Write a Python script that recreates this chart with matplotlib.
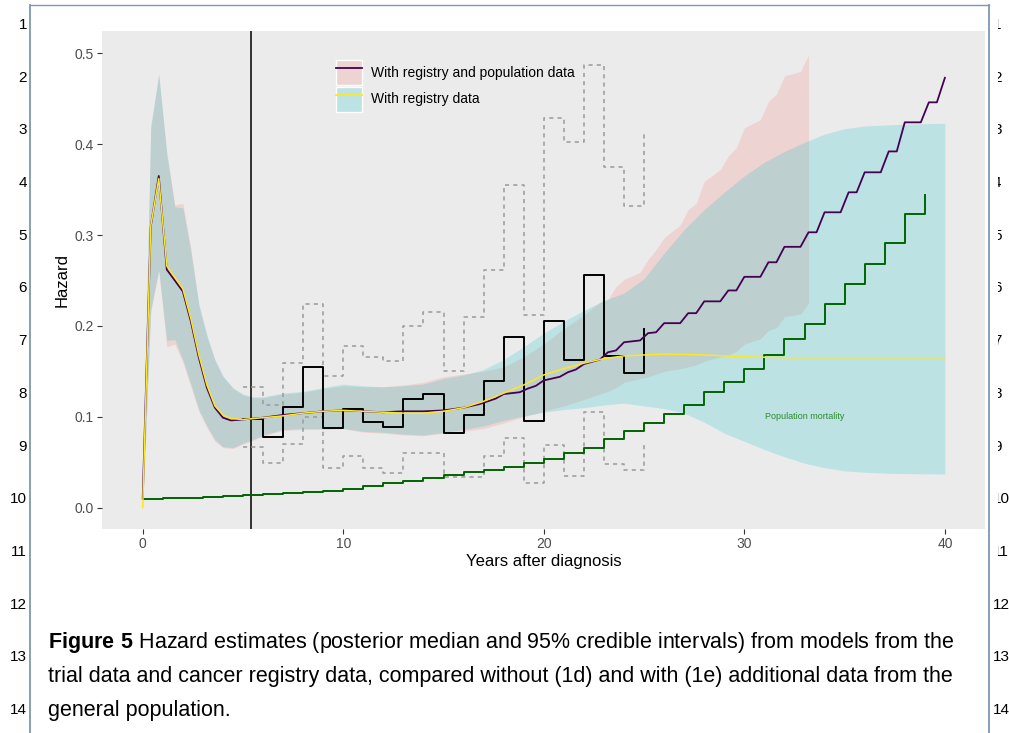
import matplotlib
matplotlib.use("Agg")
import matplotlib.pyplot as plt
from matplotlib.patches import Patch
from matplotlib.lines import Line2D
from matplotlib.legend_handler import HandlerTuple
from matplotlib.transforms import Bbox

plt.rcParams['font.family'] = ['Liberation Sans', 'DejaVu Sans']
plt.rcParams['mathtext.fontset'] = 'custom'
plt.rcParams['mathtext.bf'] = 'Liberation Sans:bold'
plt.rcParams['mathtext.rm'] = 'Liberation Sans'

# posterior median, model with registry + population data
t_pop = [0, 0.4, 0.8, 1.2, 2.0, 2.4, 2.8, 3.2, 3.6, 4.0,
         4.4, 5.0, 6, 7, 8, 9, 10, 11, 12, 13,
         14, 15, 16, 16.8, 17.2, 17.6, 18.0, 18.8, 19.2, 19.6,
         20.0, 20.8, 21.2, 21.6, 22.0, 22.8, 23.2, 23.6, 24.0, 24.8,
         25.2, 25.6, 26.0, 26.8, 27.2, 27.6, 28.0, 28.8, 29.2, 29.6,
         30.0, 30.8, 31.2, 31.6, 32.0, 32.8, 33.2, 33.6, 34.0, 34.8,
         35.2, 35.6, 36.0, 36.8, 37.2, 37.6, 38.0, 38.8, 39.2, 39.6,
         40.0]
h_pop = [0.010, 0.309, 0.365, 0.262, 0.238, 0.205, 0.165, 0.132, 0.110, 0.099,
         0.096, 0.097, 0.099, 0.102, 0.104, 0.106, 0.107, 0.106, 0.105, 0.106,
         0.106, 0.107, 0.110, 0.114, 0.117, 0.120, 0.125, 0.127, 0.131, 0.134,
         0.140, 0.144, 0.149, 0.152, 0.158, 0.163, 0.171, 0.173, 0.182, 0.184,
         0.192, 0.193, 0.203, 0.203, 0.214, 0.214, 0.227, 0.227, 0.239, 0.239,
         0.254, 0.254, 0.270, 0.270, 0.287, 0.287, 0.303, 0.303, 0.325, 0.325,
         0.347, 0.347, 0.369, 0.369, 0.392, 0.392, 0.424, 0.424, 0.446, 0.446,
         0.473]

# 95% interval, registry + population data
t_pop_band = [0, 0.4, 0.8, 1.2, 1.6, 2.0, 2.4, 2.8, 3.2, 3.6,
              4.0, 4.5, 5.0, 5.5, 6, 7, 8, 9, 10, 11,
              12, 13, 14, 15, 16, 17, 18, 19, 20, 21,
              22, 22.8, 23.2, 23.6, 24.0, 24.4, 24.8, 25.2, 25.6, 26.0,
              26.8, 27.2, 27.6, 28.0, 28.8, 29.2, 29.6, 30.0, 30.8, 31.2,
              31.6, 32.0, 32.8, 33.2]
hi_pop = [0.03, 0.418, 0.475, 0.39, 0.333, 0.335, 0.285, 0.222, 0.188, 0.162,
          0.144, 0.131, 0.124, 0.121, 0.121, 0.125, 0.127, 0.131, 0.134, 0.133,
          0.133, 0.135, 0.138, 0.144, 0.147, 0.150, 0.155, 0.166, 0.180, 0.197,
          0.212, 0.226, 0.229, 0.243, 0.251, 0.255, 0.259, 0.273, 0.284, 0.297,
          0.311, 0.328, 0.335, 0.359, 0.372, 0.387, 0.396, 0.418, 0.427, 0.447,
          0.455, 0.475, 0.480, 0.498]
lo_pop = [0.0, 0.215, 0.26, 0.177, 0.18, 0.160, 0.133, 0.106, 0.088, 0.073,
          0.066, 0.065, 0.070, 0.074, 0.079, 0.085, 0.086, 0.086, 0.087, 0.083,
          0.082, 0.080, 0.079, 0.082, 0.084, 0.087, 0.093, 0.100, 0.106, 0.112,
          0.119, 0.125, 0.128, 0.132, 0.138, 0.140, 0.142, 0.144, 0.147, 0.150,
          0.153, 0.155, 0.157, 0.161, 0.166, 0.168, 0.172, 0.180, 0.186, 0.195,
          0.198, 0.210, 0.213, 0.225]

# posterior median, model with registry data only
t_reg = [0, 0.4, 0.8, 1.2, 2.0, 2.4, 2.8, 3.2, 3.6, 4.0,
         4.4, 5, 6, 7, 8, 9, 10, 11, 12, 13,
         14, 15, 16, 17, 18, 19, 20, 21, 22, 23,
         24, 25, 26, 28, 30, 32, 35, 40]
h_reg = [0.0, 0.31, 0.362, 0.266, 0.241, 0.208, 0.168, 0.135, 0.112, 0.102,
         0.098, 0.097, 0.099, 0.101, 0.104, 0.106, 0.107, 0.106, 0.105, 0.104,
         0.104, 0.106, 0.110, 0.117, 0.126, 0.135, 0.146, 0.153, 0.159, 0.164,
         0.167, 0.168, 0.169, 0.168, 0.166, 0.165, 0.165, 0.165]

# 95% interval, registry data only
t_reg_band = [0, 0.4, 0.8, 1.2, 1.6, 2.0, 2.4, 2.8, 3.2, 3.6,
              4.0, 4.5, 5.0, 5.5, 6, 7, 8, 9, 10, 11,
              12, 13, 14, 15, 16, 17, 18, 19, 20, 21,
              22, 23, 24, 25, 26, 27, 28, 29, 30, 31,
              32, 33, 34, 35, 36, 37, 38, 40]
hi_reg = [0.03, 0.42, 0.478, 0.39, 0.331, 0.33, 0.282, 0.224, 0.19, 0.163,
          0.145, 0.132, 0.125, 0.122, 0.122, 0.126, 0.128, 0.132, 0.136, 0.134,
          0.133, 0.134, 0.136, 0.142, 0.146, 0.152, 0.163, 0.177, 0.192, 0.205,
          0.217, 0.228, 0.236, 0.252, 0.280, 0.306, 0.328, 0.347, 0.365, 0.380,
          0.392, 0.402, 0.411, 0.417, 0.420, 0.421, 0.422, 0.423]
lo_reg = [0.0, 0.218, 0.262, 0.184, 0.185, 0.163, 0.136, 0.108, 0.09, 0.075,
          0.067, 0.066, 0.071, 0.075, 0.08, 0.086, 0.087, 0.087, 0.087, 0.084,
          0.083, 0.081, 0.080, 0.083, 0.086, 0.090, 0.096, 0.101, 0.105, 0.108,
          0.110, 0.113, 0.115, 0.112, 0.109, 0.104, 0.094, 0.082, 0.073, 0.064,
          0.056, 0.049, 0.044, 0.0405, 0.039, 0.038, 0.0375, 0.037]

# registry observed hazard (annual) with interval
obs_years = list(range(5, 26))
obs_hazard = [0.0973, 0.078, 0.1106, 0.155, 0.0874, 0.109, 0.0947, 0.0892, 0.1197, 0.125,
              0.0826, 0.1017, 0.139, 0.1877, 0.0958, 0.205, 0.163, 0.256, 0.1674, 0.1487,
              0.197]
obs_upper = [0.133, 0.113, 0.159, 0.224, 0.145, 0.178, 0.166, 0.1616, 0.2, 0.215,
             0.1505, 0.2097, 0.262, 0.3547, 0.212, 0.4288, 0.4028, 0.4876, 0.3745, 0.3323,
             0.411]
obs_lower = [0.067, 0.0496, 0.070, 0.100, 0.0437, 0.057, 0.044, 0.0386, 0.060, 0.060,
             0.0338, 0.0335, 0.057, 0.077, 0.0269, 0.069, 0.035, 0.105, 0.048, 0.0415,
             0.073]

# general population mortality
popmort_years = list(range(0, 40))
popmort_hazard = [0.0096, 0.0102, 0.0110, 0.0118, 0.0127, 0.0137, 0.0148, 0.0160, 0.0173, 0.0188,
                  0.0206, 0.024, 0.027, 0.029, 0.033, 0.036, 0.039, 0.041, 0.045, 0.0496,
                  0.054, 0.060, 0.066, 0.075, 0.084, 0.093, 0.103, 0.113, 0.127, 0.138,
                  0.153, 0.168, 0.186, 0.202, 0.224, 0.246, 0.268, 0.291, 0.323, 0.344]

trial_end = 5.42
legend_labels = ['With registry and population data', 'With registry data']
line_numbers = list(range(1, 15))
caption_lines = [r'$\mathbf{Figure\ 5}$ Hazard estimates (posterior median and 95% credible intervals) from models from the',
                 'trial data and cancer registry data, compared without (1d) and with (1e) additional data from the',
                 'general population.']

W, H = 1009, 733
fig = plt.figure(figsize=(W / 100, H / 100), dpi=100)


def fx(px):
    return px / W


def fy(py):
    return 1 - py / H


ax = fig.add_axes([fx(102), fy(529), fx(985) - fx(102), fy(31) - fy(529)])
ax.set_facecolor('#EBEBEB')
for s in ax.spines.values():
    s.set_visible(False)

PINK = '#F8766D'
CYAN = '#00BFC4'
ax.fill_between(t_pop_band, lo_pop, hi_pop, color=PINK, alpha=0.2, lw=0, zorder=1)
ax.fill_between(t_reg_band, lo_reg, hi_reg, color=CYAN, alpha=0.2, lw=0, zorder=1)

ax.axvline(trial_end, color='black', lw=1.1, zorder=2)
ax.step(obs_years, obs_upper, where='post', color='#9a9a9a', lw=1.1, ls=(0, (2.7, 2.7)), zorder=3)
ax.step(obs_years, obs_lower, where='post', color='#9a9a9a', lw=1.1, ls=(0, (2.7, 2.7)), zorder=3)
ax.step(obs_years, obs_hazard, where='post', color='black', lw=1.4, zorder=4)
ax.step(popmort_years, popmort_hazard, where='post', color='#006400', lw=1.4, zorder=4)
ax.plot(t_pop, h_pop, color='#440154', lw=1.3, zorder=5)
ax.plot(t_reg, h_reg, color='#FDE725', lw=1.1, zorder=6)
ax.text(33, 0.1, 'Population mortality', color='#2e8b2e', fontsize=6.5,
        ha='center', va='center', zorder=7)

ax.set_xlim(-2.03, 42.0)
ax.set_ylim(-0.0235, 0.5245)
ax.set_xticks([0, 10, 20, 30, 40])
ax.set_yticks([0.0, 0.1, 0.2, 0.3, 0.4, 0.5])
ax.set_yticklabels(['0.0', '0.1', '0.2', '0.3', '0.4', '0.5'])
ax.tick_params(length=3.6, width=0.8, color='#333333', labelcolor='#4D4D4D',
               labelsize=10, pad=2.2)
ax.set_xlabel('Years after diagnosis', fontsize=12)
ax.set_ylabel('Hazard', fontsize=12)
ax.xaxis.set_label_coords(0.5, -0.05)
ax.yaxis.set_label_coords(-0.037, 0.5)

h1 = (Patch(facecolor=(0.973, 0.463, 0.427, 0.2), edgecolor='white', lw=1.0),
      Line2D([], [], color='#440154', lw=1.3))
h2 = (Patch(facecolor=(0.0, 0.749, 0.769, 0.2), edgecolor='white', lw=1.0),
      Line2D([], [], color='#FDE725', lw=1.3))
ax.legend([h1, h2], legend_labels, handler_map={tuple: HandlerTuple(ndivide=1, pad=0)},
          loc='upper left', bbox_to_anchor=(0.265, 0.942), frameon=False,
          fontsize=10, handlelength=1.85, handleheight=2.4, labelspacing=0.12,
          handletextpad=0.65, borderpad=0, borderaxespad=0)

# page frame
frame_col = '#7F97B3'
fig.add_artist(Line2D([fx(30), fx(30)], [fy(5), fy(733)], color=frame_col, lw=1.3))
fig.add_artist(Line2D([fx(30), fx(989)], [fy(5), fy(5)], color=frame_col, lw=1.0))
fig.add_artist(Line2D([fx(989), fx(989)], [fy(5), fy(733)], color=frame_col, lw=1.3))

for n in line_numbers:
    y = fy(25 + (n - 1) * 52.7)
    fig.text(fx(27), y, str(n), fontsize=11, ha='right', va='center')
    t = fig.text(fx(993), y, str(n), fontsize=11, ha='left', va='center')
    if n <= 11:
        t.set_clip_on(True)
        t.set_clip_box(Bbox.from_extents(998, 0, W, H))

for i, line in enumerate(caption_lines):
    fig.text(fx(48), fy(648 + i * 34), line, fontsize=15.5, ha='left', va='baseline')

fig.savefig('out.png', dpi=100)
